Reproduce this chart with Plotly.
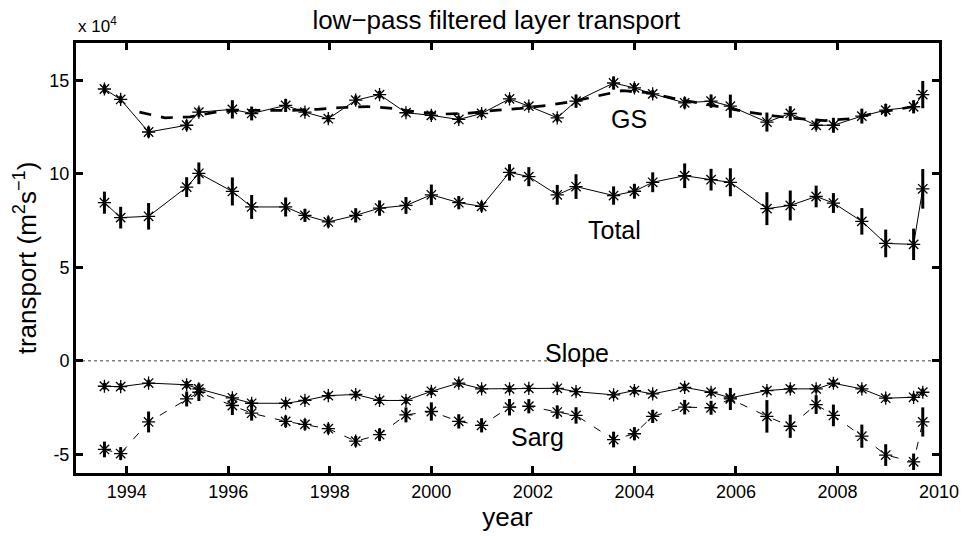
import plotly.graph_objects as go

# time of each sample (decimal year)
years = [1993.56, 1993.88, 1994.43, 1995.18, 1995.42, 1996.08, 1996.46, 1997.13, 1997.51, 1997.97,
         1998.51, 1998.98, 1999.50, 2000.00, 2000.54, 2000.99, 2001.54, 2001.92, 2002.48, 2002.85,
         2003.59, 2004.00, 2004.36, 2004.99, 2005.51, 2005.89, 2006.61, 2007.07, 2007.58, 2007.92,
         2008.48, 2008.95, 2009.50, 2009.68]

# values in units of 1e4 m^2/s
gs = [14.54, 13.98, 12.24, 12.60, 13.30, 13.45, 13.23, 13.66, 13.30, 12.95,
      13.94, 14.24, 13.27, 13.13, 12.91, 13.23, 14.01, 13.62, 13.00, 13.89,
      14.86, 14.60, 14.28, 13.80, 13.89, 13.62, 12.77, 13.23, 12.60, 12.60,
      13.09, 13.41, 13.59, 14.24]
gs_err = [0.24, 0.20, 0.29, 0.27, 0.25, 0.49, 0.37, 0.35, 0.20, 0.20,
          0.25, 0.20, 0.20, 0.25, 0.20, 0.20, 0.20, 0.20, 0.20, 0.35,
          0.35, 0.25, 0.20, 0.30, 0.35, 0.62, 0.51, 0.39, 0.24, 0.40,
          0.40, 0.33, 0.35, 0.73]

total = [8.46, 7.66, 7.73, 9.29, 10.03, 9.06, 8.23, 8.23, 7.78, 7.43,
         7.78, 8.17, 8.31, 8.88, 8.46, 8.26, 10.08, 9.85, 8.88, 9.32,
         8.84, 9.07, 9.55, 9.90, 9.69, 9.55, 8.14, 8.31, 8.79, 8.44,
         7.46, 6.28, 6.23, 9.20]
total_err = [0.59, 0.58, 0.71, 0.53, 0.58, 0.75, 0.64, 0.51, 0.35, 0.29,
             0.38, 0.41, 0.45, 0.55, 0.35, 0.27, 0.44, 0.51, 0.53, 0.66,
             0.49, 0.40, 0.53, 0.66, 0.58, 0.75, 0.88, 0.80, 0.58, 0.53,
             0.71, 0.74, 0.84, 1.06]

slope = [-1.36, -1.38, -1.19, -1.28, -1.50, -1.98, -2.27, -2.27, -2.12, -1.86,
         -1.80, -2.12, -2.12, -1.63, -1.19, -1.50, -1.50, -1.47, -1.47, -1.65,
         -1.82, -1.59, -1.77, -1.42, -1.68, -1.98, -1.59, -1.50, -1.50, -1.20,
         -1.50, -2.00, -1.95, -1.68]
slope_err = [0.18, 0.18, 0.18, 0.2, 0.25, 0.2, 0.2, 0.18, 0.18, 0.18,
             0.18, 0.18, 0.18, 0.2, 0.2, 0.18, 0.18, 0.18, 0.2, 0.2,
             0.18, 0.2, 0.18, 0.2, 0.2, 0.2, 0.2, 0.2, 0.2, 0.2,
             0.2, 0.2, 0.2, 0.2]

sarg = [-4.74, -4.96, -3.27, -2.04, -1.68, -2.39, -2.80, -3.24, -3.40, -3.63,
        -4.30, -3.95, -2.89, -2.71, -3.24, -3.45, -2.48, -2.43, -2.74, -2.92,
        -4.21, -3.90, -2.97, -2.48, -2.51, -2.04, -2.97, -3.50, -2.34, -2.92,
        -4.03, -5.04, -5.40, -3.27]
sarg_err = [0.42, 0.34, 0.56, 0.40, 0.47, 0.51, 0.40, 0.31, 0.29, 0.27,
            0.28, 0.33, 0.40, 0.49, 0.38, 0.38, 0.44, 0.38, 0.35, 0.44,
            0.42, 0.35, 0.35, 0.39, 0.37, 0.59, 0.87, 0.62, 0.50, 0.58,
            0.62, 0.58, 0.44, 0.78]

# smoothed GS (dashed curve)
gs_smooth_years = [1994.25, 1994.75, 1995.25, 1995.75, 1996.25, 1996.75, 1997.25, 1997.75,
                   1998.25, 1998.75, 1999.25, 1999.75, 2000.25, 2000.75, 2001.25, 2001.75,
                   2002.25, 2002.75, 2003.25, 2003.75, 2004.25, 2004.75, 2005.25, 2005.75,
                   2006.25, 2006.75, 2007.25, 2007.75, 2008.25, 2008.75, 2009.25, 2009.6]
gs_smooth = [13.30, 13.00, 13.05, 13.30, 13.40, 13.40, 13.40, 13.45,
             13.55, 13.60, 13.50, 13.30, 13.20, 13.25, 13.40, 13.50,
             13.65, 13.85, 14.15, 14.45, 14.35, 14.05, 13.80, 13.55,
             13.30, 13.10, 12.95, 12.85, 12.95, 13.25, 13.50, 13.65]

x_ticks = [1994, 1996, 1998, 2000, 2002, 2004, 2006, 2008, 2010]
y_ticks = [-5, 0, 5, 10, 15]

FONT = "Liberation Sans, Arial, Helvetica, sans-serif"
BLACK = "black"

fig = go.Figure()

marker = dict(symbol="asterisk-open", size=11, color=BLACK, line=dict(color=BLACK, width=1.3))


def err(a):
    return dict(type="data", array=a, visible=True, color=BLACK, thickness=3, width=0)


fig.add_trace(go.Scatter(x=gs_smooth_years, y=gs_smooth, mode="lines",
                         line=dict(color=BLACK, width=2.7, dash="12px,10px"), showlegend=False))
fig.add_trace(go.Scatter(x=years, y=gs, mode="lines+markers", line=dict(color=BLACK, width=1),
                         marker=marker, error_y=err(gs_err), showlegend=False))
fig.add_trace(go.Scatter(x=years, y=total, mode="lines+markers", line=dict(color=BLACK, width=1),
                         marker=marker, error_y=err(total_err), showlegend=False))
fig.add_trace(go.Scatter(x=years, y=slope, mode="lines+markers", line=dict(color=BLACK, width=1),
                         marker=marker, error_y=err(slope_err), showlegend=False))
fig.add_trace(go.Scatter(x=years, y=sarg, mode="lines+markers",
                         line=dict(color=BLACK, width=1, dash="8px,10px"),
                         marker=marker, error_y=err(sarg_err), showlegend=False))

fig.add_shape(type="line", xref="paper", x0=0, x1=1, yref="y", y0=0, y1=0,
              line=dict(color="#444", width=1, dash="dot"), layer="below")

labels = [("GS", 2003.89, 12.96), ("Total", 2003.6, 7.0), ("Slope", 2002.86, 0.4), ("Sarg", 2002.09, -4.1)]
for txt, xx, yy in labels:
    fig.add_annotation(x=xx, y=yy, text=txt, showarrow=False,
                       font=dict(family=FONT, size=25, color=BLACK))

fig.add_annotation(xref="paper", yref="paper", x=0, y=1, xanchor="left", yanchor="bottom",
                   yshift=5, text="x 10<sup>4</sup>", showarrow=False,
                   font=dict(family=FONT, size=17, color=BLACK))

axis_common = dict(showline=True, linewidth=3, linecolor=BLACK, mirror="ticks",
                   ticks="inside", ticklen=7, tickwidth=3, tickcolor=BLACK,
                   showgrid=False, zeroline=False,
                   tickfont=dict(family=FONT, size=18, color=BLACK))

fig.update_layout(
    width=971, height=536,
    margin=dict(l=76, r=28, t=43, b=60),
    paper_bgcolor="white", plot_bgcolor="white",
    font=dict(family=FONT, color=BLACK),
    title=dict(text="low\u2212pass filtered layer transport", x=0.487, xref="paper",
               xanchor="center", y=0.963, yanchor="middle",
               font=dict(family=FONT, size=26, color=BLACK)),
    xaxis=dict(range=[1993, 2010], tickvals=x_ticks, ticktext=[str(v) for v in x_ticks],
               title=dict(text="year", font=dict(family=FONT, size=26, color=BLACK), standoff=4),
               **axis_common),
    yaxis=dict(range=[-6, 17], tickvals=y_ticks, ticktext=[str(v) for v in y_ticks],
               title=dict(text="transport (m<sup>2</sup>s<sup>\u22121</sup>)",
                          font=dict(family=FONT, size=26, color=BLACK), standoff=6),
               **axis_common),
)

fig.write_html("out.html")
